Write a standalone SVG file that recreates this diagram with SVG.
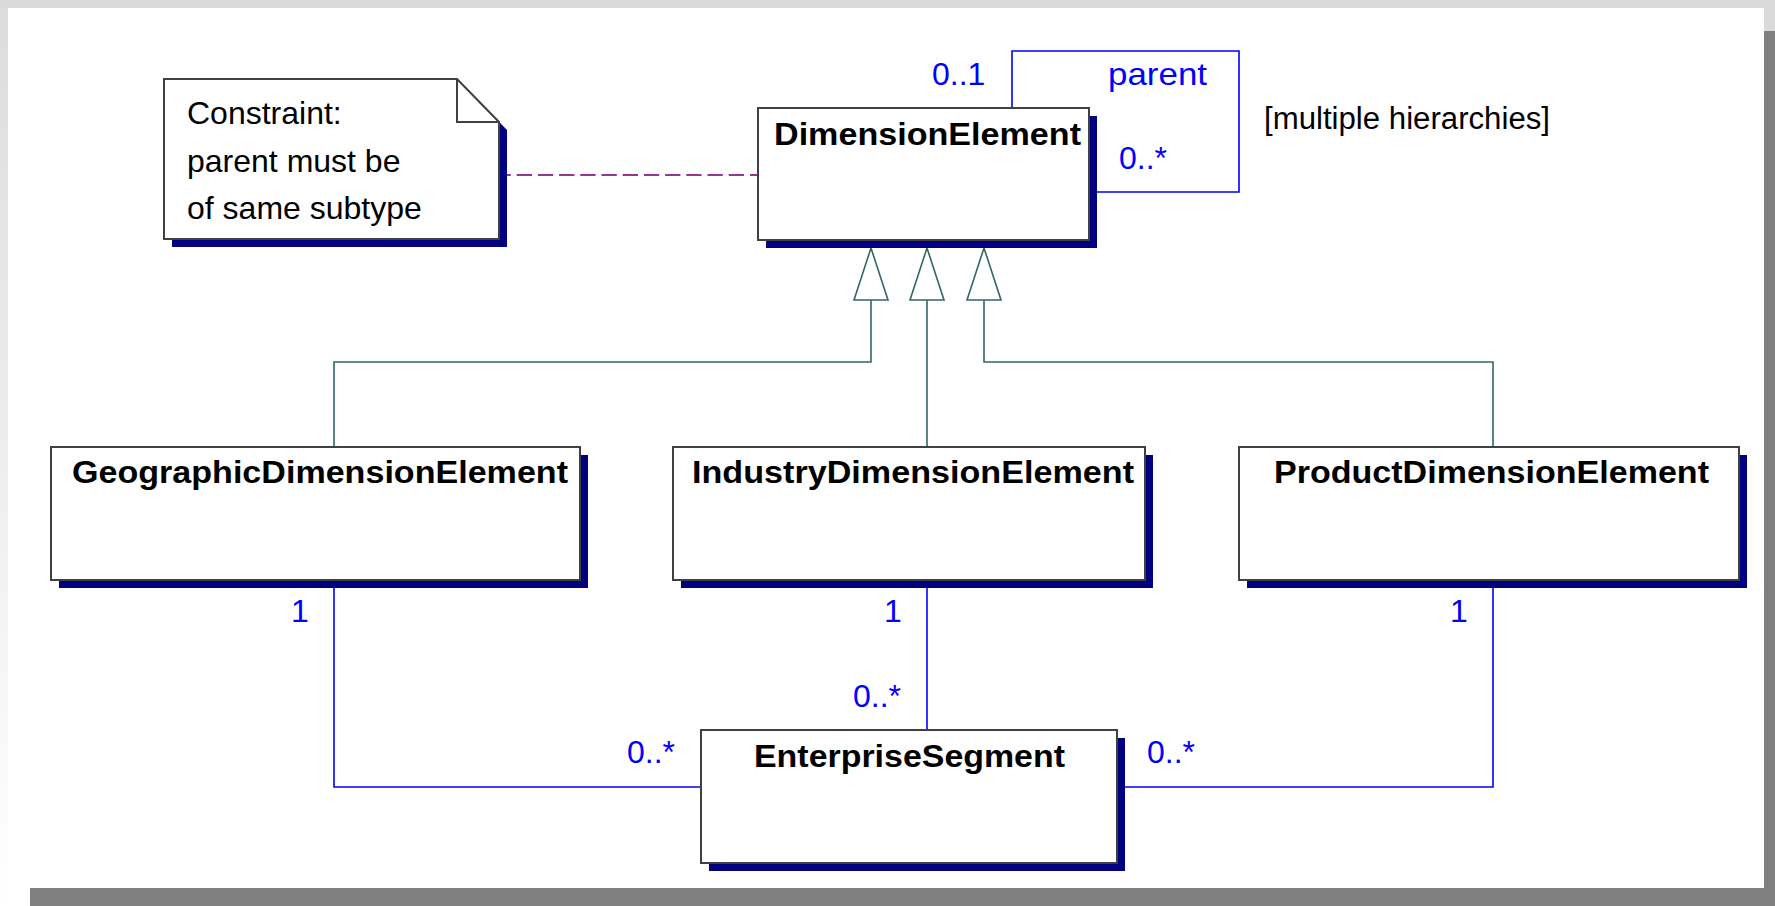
<svg xmlns="http://www.w3.org/2000/svg" width="1775" height="906" viewBox="0 0 1775 906">
<style>
.box{fill:#ffffff;stroke:#404040;stroke-width:2}
.shadow{fill:#000080}
.title{font-family:"Liberation Sans",Arial,sans-serif;font-size:32px;font-weight:bold;fill:#000000}
.note{font-family:"Liberation Sans",Arial,sans-serif;font-size:32px;fill:#000000}
.mult{font-family:"Liberation Sans",Arial,sans-serif;font-size:32px;fill:#0000ff}
.plain{font-family:"Liberation Sans",Arial,sans-serif;font-size:31px;fill:#000000}
.gen{fill:none;stroke:#336666;stroke-width:1.6}
.assoc{fill:none;stroke:#0000ff;stroke-width:1.6}
.anchor{fill:none;stroke:#993399;stroke-width:2;stroke-dasharray:15.3 5.9;stroke-dashoffset:3.5}
</style>
<defs>
<linearGradient id="leftband" x1="0" y1="0" x2="0" y2="1">
<stop offset="0" stop-color="#dcdcdc"/>
<stop offset="1" stop-color="#ffffff"/>
</linearGradient>
<marker id="genArrow" markerUnits="userSpaceOnUse" markerWidth="54" markerHeight="36" viewBox="-1 -1 54 36" refX="52" refY="17" orient="auto" overflow="visible">
<path d="M0,0 L52,17 L0,34 Z" fill="#ffffff" stroke="#336666" stroke-width="1.6"/>
</marker>
</defs>
<g id="frame">
<rect x="0" y="0" width="1775" height="906" fill="#ffffff"/>
<rect x="0" y="0" width="8" height="906" fill="url(#leftband)"/>
<rect x="0" y="0" width="1775" height="8" fill="#dadada"/>
<rect x="1764" y="8" width="11" height="23" fill="#dadada"/>
<rect x="1764" y="31" width="11" height="875" fill="#808080"/>
<rect x="30" y="888" width="1745" height="18" fill="#808080"/>
</g>
<g id="connectors">
<path class="anchor" d="M499,175 L758,175"/>
<path class="assoc" d="M1012,108 L1012,51 L1239,51 L1239,192 L1089,192"/>
<path class="gen" d="M334,447 L334,362 L871,362 L871,248" marker-end="url(#genArrow)"/>
<path class="gen" d="M927,447 L927,248" marker-end="url(#genArrow)"/>
<path class="gen" d="M1493,447 L1493,362 L984,362 L984,248" marker-end="url(#genArrow)"/>
<path class="assoc" d="M334,580 L334,787 L701,787"/>
<path class="assoc" d="M927,580 L927,730"/>
<path class="assoc" d="M1493,580 L1493,787 L1117,787"/>
<text class="mult" x="932" y="85">0..1</text>
<text class="mult" x="1108" y="85" textLength="99" lengthAdjust="spacingAndGlyphs">parent</text>
<text class="mult" x="1119" y="169">0..*</text>
<text class="mult" x="291" y="622">1</text>
<text class="mult" x="884" y="622">1</text>
<text class="mult" x="1450" y="622">1</text>
<text class="mult" x="853" y="707">0..*</text>
<text class="mult" x="627" y="763">0..*</text>
<text class="mult" x="1147" y="763">0..*</text>
</g>
<g id="note">
<path class="shadow" d="M172,87 L465,87 L507,130 L507,247 L172,247 Z"/>
<path class="box" d="M164,79 L457,79 L499,122 L499,239 L164,239 Z"/>
<path fill="none" stroke="#404040" stroke-width="2" d="M457,79 L457,122 L499,122"/>
<text class="note" x="187" y="124">Constraint:</text>
<text class="note" x="187" y="172">parent must be</text>
<text class="note" x="187" y="219">of same subtype</text>
</g>
<g id="DimensionElement">
<rect class="shadow" x="766" y="116" width="331" height="132"/>
<rect class="box" x="758" y="108" width="331" height="132"/>
<text class="title" x="774" y="145" textLength="307" lengthAdjust="spacingAndGlyphs">DimensionElement</text>
</g>
<text id="hierarchies" class="plain" x="1264" y="129" textLength="286" lengthAdjust="spacingAndGlyphs">[multiple hierarchies]</text>
<g id="GeographicDimensionElement">
<rect class="shadow" x="59" y="455" width="529" height="133"/>
<rect class="box" x="51" y="447" width="529" height="133"/>
<text class="title" x="72" y="483" textLength="496" lengthAdjust="spacingAndGlyphs">GeographicDimensionElement</text>
</g>
<g id="IndustryDimensionElement">
<rect class="shadow" x="681" y="455" width="472" height="133"/>
<rect class="box" x="673" y="447" width="472" height="133"/>
<text class="title" x="692" y="483" textLength="442" lengthAdjust="spacingAndGlyphs">IndustryDimensionElement</text>
</g>
<g id="ProductDimensionElement">
<rect class="shadow" x="1247" y="455" width="500" height="133"/>
<rect class="box" x="1239" y="447" width="500" height="133"/>
<text class="title" x="1274" y="483" textLength="435" lengthAdjust="spacingAndGlyphs">ProductDimensionElement</text>
</g>
<g id="EnterpriseSegment">
<rect class="shadow" x="709" y="738" width="416" height="133"/>
<rect class="box" x="701" y="730" width="416" height="133"/>
<text class="title" x="754" y="767" textLength="311" lengthAdjust="spacingAndGlyphs">EnterpriseSegment</text>
</g>
</svg>
